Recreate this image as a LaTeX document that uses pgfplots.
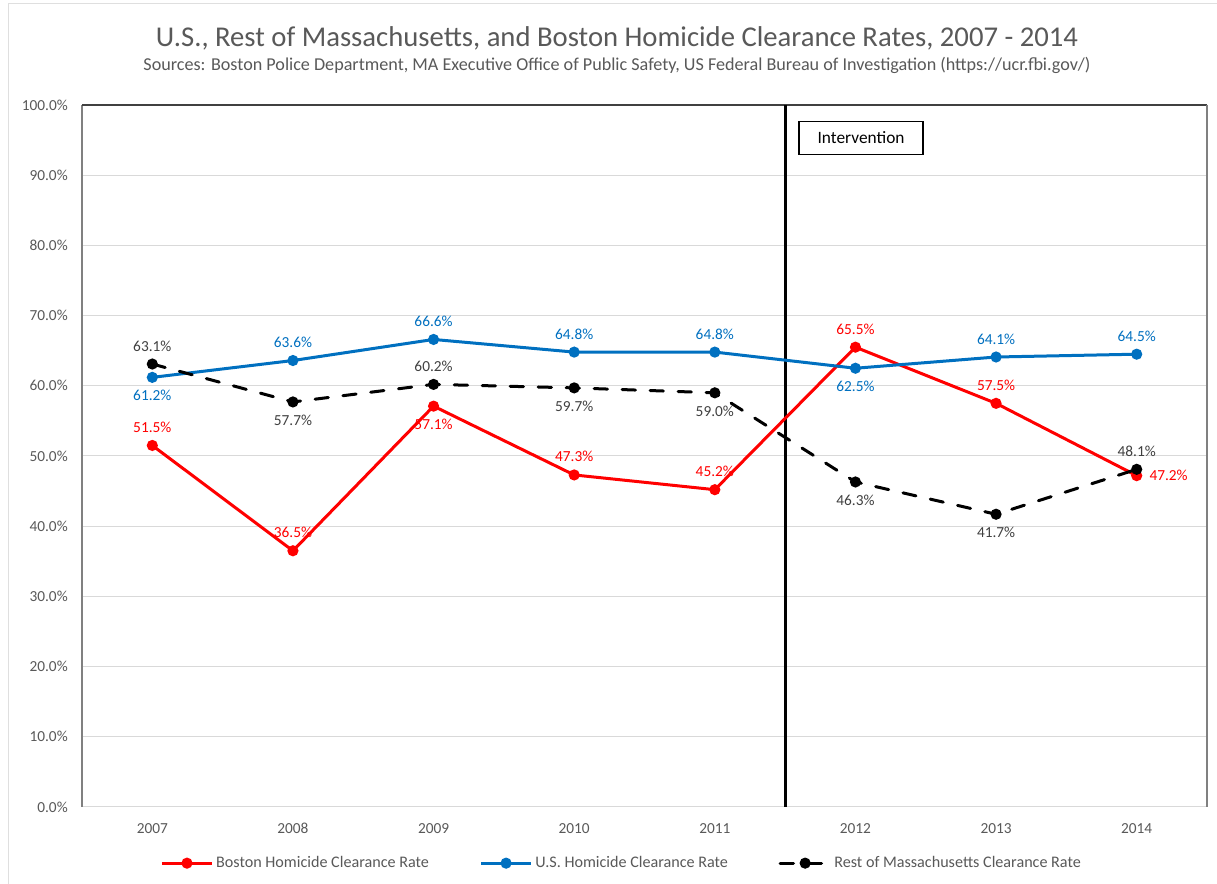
\documentclass[border=0pt]{standalone}
\usepackage{pgfplots}
\pgfplotsset{compat=1.18}
\usepackage{fontspec}
\setmainfont{Carlito}
\definecolor{txtgray}{HTML}{595959}
\definecolor{darkgray}{HTML}{404040}
\definecolor{bred}{HTML}{FF0000}
\definecolor{usblue}{HTML}{0070C0}
\definecolor{gridgray}{HTML}{D9D9D9}
\begin{document}
\begin{tikzpicture}
\useasboundingbox (0,0) rectangle (912.75pt,663pt);
\fill[white] (0,0) rectangle (912.75pt,663pt);
\draw[gray!25, line width=0.75pt] (6pt,-10pt) -- (6pt,660pt) -- (930pt,660pt);
\node[font=\fontsize{21.5}{24}\selectfont, text=txtgray] at (462.75pt,634pt) {U.S., Rest of Massachusetts, and Boston Homicide Clearance Rates, 2007 - 2014};
\node[font=\fontsize{13.6}{15}\selectfont, text=txtgray] at (462.75pt,614pt) {Sources: Boston Police Department, MA Executive Office of Public Safety, US Federal Bureau of Investigation (https://ucr.fbi.gov/)};
\begin{axis}[
  at={(61.5pt,57.75pt)}, anchor=south west,
  width=843.75pt, height=526.5pt, scale only axis,
  xmin=-0.5, xmax=7.5, ymin=0, ymax=100,
  xtick={0,...,7}, xticklabels={2007,2008,2009,2010,2011,2012,2013,2014},
  ytick={0,10,...,100},
  yticklabels={0.0\%,10.0\%,20.0\%,30.0\%,40.0\%,50.0\%,60.0\%,70.0\%,80.0\%,90.0\%,100.0\%},
  major tick length=0pt,
  tick label style={font=\fontsize{11.5}{13}\selectfont, text=txtgray},
  yticklabel style={anchor=east, inner sep=0pt, xshift=-10.5pt},
  xticklabel style={anchor=north, inner sep=0pt, yshift=-12pt},
  ymajorgrids, grid style={gridgray, line width=0.75pt},
  axis line style={draw=none},
  clip=false,
  legend style={at={(0.48,-0.08)}, anchor=center, draw=none, fill=none,
    legend columns=3, font=\fontsize{12.1}{14}\selectfont, text=txtgray,
    /tikz/every even column/.append style={column sep=36pt},
    /tikz/every odd column/.append style={column sep=0pt}},
  legend cell align=left,
  legend image code/.code={\draw[mark repeat=2,mark phase=2,#1] plot coordinates {(0pt,0pt) (18.75pt,0pt) (37.5pt,0pt)};},
  nodes near coords={\pgfmathprintnumber[fixed,fixed zerofill,precision=1,assume math mode=true]{\pgfplotspointmeta}\%},
  visualization depends on={value \thisrow{pos}\as\labpos},
  every node near coord/.append style={anchor=\labpos, inner sep=8.5pt, font=\fontsize{11.5}{13}\selectfont},
]
\draw[gridgray, line width=0.75pt] (rel axis cs:0,0) -- (rel axis cs:1,0);
\draw[gray, line width=1pt] (rel axis cs:0,0) -- (rel axis cs:0,1);
\draw[darkgray, line width=1.2pt] (rel axis cs:0,1) -- (rel axis cs:1,1);
\draw[gray, line width=1pt] (rel axis cs:1,1) -- (rel axis cs:1,0);
\draw[black, line width=2.25pt] (axis cs:4.5,0) -- (axis cs:4.5,100);
\node[draw=black, line width=1.1pt, fill=white, minimum width=93pt, minimum height=24.75pt, font=\fontsize{13}{15}\selectfont, text=black] at (axis cs:5.04,95.3) {Intervention};

\addplot[bred, line width=2.25pt, mark=*, mark size=3pt,
  nodes near coords style={text=bred}] table[x=x, y=y] {
x y pos
0 51.5 south
1 36.5 south
2 57.1 north
3 47.3 south
4 45.2 south
5 65.5 south
6 57.5 south
7 47.2 west
};
\addlegendentry{Boston Homicide Clearance Rate}
\addplot[usblue, line width=2.25pt, mark=*, mark size=3pt,
  nodes near coords style={text=usblue}] table[x=x, y=y] {
x y pos
0 61.2 north
1 63.6 south
2 66.6 south
3 64.8 south
4 64.8 south
5 62.5 north
6 64.1 south
7 64.5 south
};
\addlegendentry{U.S. Homicide Clearance Rate}
\addplot[black, line width=2.25pt, line cap=round, dash pattern=on 10pt off 11pt, mark=*, mark size=3pt, mark options={solid},
  nodes near coords style={text=darkgray}] table[x=x, y=y] {
x y pos
0 63.1 south
1 57.7 north
2 60.2 south
3 59.7 north
4 59.0 north
5 46.3 north
6 41.7 north
7 48.1 south
};
\addlegendentry{Rest of Massachusetts Clearance Rate}
\end{axis}
\end{tikzpicture}
\end{document}
